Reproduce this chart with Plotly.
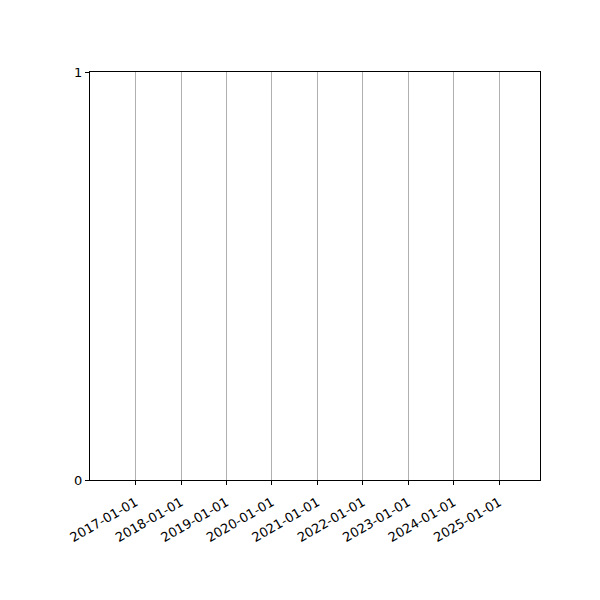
import plotly.graph_objects as go

# the source chart has no plotted data, only a dated axis frame
dates = []
values = []
x_range = ["2016-01-01", "2025-11-24"]
tick_dates = ["2017-01-01", "2018-01-01", "2019-01-01", "2020-01-01", "2021-01-01",
              "2022-01-01", "2023-01-01", "2024-01-01", "2025-01-01"]
y_ticks = [0, 1]

fig = go.Figure()
fig.add_trace(go.Scatter(x=dates, y=values, mode="lines", showlegend=False))

# page body adds 8px, so margins are shifted to land the frame at 90..540 / 72..480
fig.update_layout(
    width=600, height=600,
    margin=dict(l=82, r=68, t=64, b=128),
    plot_bgcolor="white", paper_bgcolor="white",
    font=dict(family="DejaVu Sans", size=13, color="black"),
    showlegend=False,
)
fig.update_xaxes(
    type="date", range=x_range,
    tickmode="array", tickvals=tick_dates, ticktext=tick_dates,
    tickangle=-30, ticks="outside", ticklen=4, tickwidth=1, tickcolor="black",
    ticklabelstandoff=5,
    showgrid=True, gridcolor="#b0b0b0", gridwidth=1,
    showline=True, linecolor="black", linewidth=1, mirror=True,
    zeroline=False,
)
fig.update_yaxes(
    range=[0, 1], tickmode="array", tickvals=y_ticks,
    ticks="outside", ticklen=4, tickwidth=1, tickcolor="black",
    showgrid=False, zeroline=False,
    showline=True, linecolor="black", linewidth=1, mirror=True,
)

fig.write_html("out.html")
